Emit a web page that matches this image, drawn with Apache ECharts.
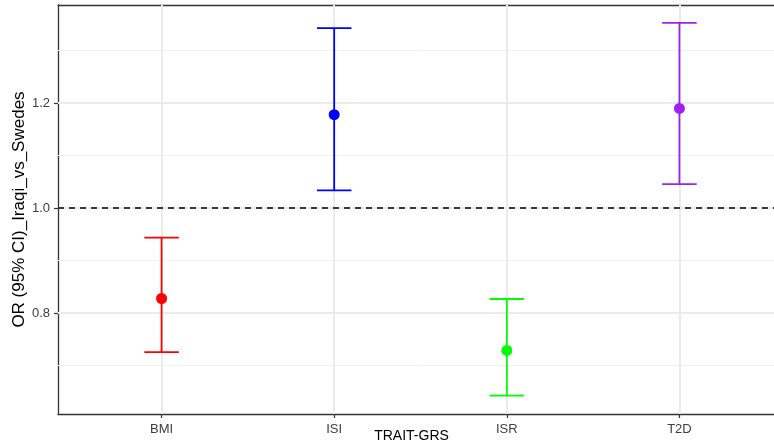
<!DOCTYPE html>
<html>
<head>
<meta charset="utf-8">
<script src="https://cdn.jsdelivr.net/npm/echarts@6/dist/echarts.min.js"></script>
<style>
  html, body { margin: 0; padding: 0; background: #fff; }
  #main { width: 774px; height: 445px; }
</style>
</head>
<body>
<div id="main"></div>
<script>
// traits and OR with 95% CI
var traits = ["BMI", "ISI", "ISR", "T2D"];
var orValue = [0.828, 1.178, 0.729, 1.190];
var ciLow = [0.726, 1.034, 0.643, 1.046];
var ciHigh = [0.944, 1.343, 0.827, 1.353];
var colors = ["#FF0000", "#0000FF", "#00FF00", "#A020F0"];
var yTicks = [0.8, 1.0, 1.2];
var yMinor = [0.7, 0.9, 1.1, 1.3];

var chart = echarts.init(document.getElementById("main"));

var xIdx = traits.map(function (t, i) { return i; });

var gridLines = [];
yMinor.forEach(function (v) {
  gridLines.push({ yAxis: v, lineStyle: { color: "#F2F2F2", width: 1, type: "solid" } });
});
yTicks.forEach(function (v) {
  gridLines.push({ yAxis: v, lineStyle: { color: "#EBEBEB", width: 2, type: "solid" } });
});
xIdx.forEach(function (v) {
  gridLines.push({ xAxis: v, lineStyle: { color: "#EBEBEB", width: 2, type: "solid" } });
});

var errData = traits.map(function (t, i) { return [i, ciLow[i], ciHigh[i]]; });
var ptData = traits.map(function (t, i) {
  return { value: [i, orValue[i]], itemStyle: { color: colors[i], opacity: 1 } };
});

var border = { show: true, onZero: false, lineStyle: { color: "#333333", width: 1.3 } };

chart.setOption({
  animation: false,
  grid: {
    left: 58,
    right: -9,
    top: 5,
    bottom: 31,
    outerBoundsMode: "none",
    containLabel: false,
    show: false
  },
  xAxis: [{
    type: "value",
    min: -0.6,
    max: 3.6,
    name: "TRAIT-GRS",
    nameLocation: "middle",
    nameGap: 15,
    nameMoveOverlap: false,
    nameTextStyle: { color: "#000", fontSize: 14, fontFamily: "Liberation Sans", padding: [0, 18, 0, 0] },
    axisLine: border,
    splitLine: { show: false },
    axisTick: { show: true, length: 4, customValues: xIdx, lineStyle: { color: "#333", width: 1.2 } },
    axisLabel: {
      customValues: xIdx,
      margin: 9,
      color: "#404040",
      fontSize: 13,
      fontFamily: "Liberation Sans",
      formatter: function (v) { return traits[Math.round(v)]; }
    }
  }, {
    type: "value",
    position: "top",
    min: -0.6,
    max: 3.6,
    axisLine: border,
    axisTick: { show: false },
    axisLabel: { show: false },
    splitLine: { show: false }
  }],
  yAxis: {
    type: "value",
    min: 0.608,
    max: 1.387,
    name: "OR (95% CI)_Iraqi_vs_Swedes",
    nameLocation: "middle",
    nameGap: 30,
    nameMoveOverlap: false,
    nameTextStyle: { color: "#000", fontSize: 17, fontFamily: "Liberation Sans" },
    axisLine: border,
    splitLine: { show: false },
    axisTick: { show: true, length: 4, customValues: yTicks, lineStyle: { color: "#333", width: 1.2 } },
    axisLabel: {
      customValues: yTicks,
      margin: 8,
      color: "#404040",
      fontSize: 13,
      fontFamily: "Liberation Sans",
      formatter: function (v) { return v.toFixed(1); }
    }
  },
  series: [
    {
      type: "line",
      data: [],
      silent: true,
      z: 1,
      markLine: {
        silent: true,
        z: 1,
        symbol: "none",
        label: { show: false },
        animation: false,
        data: gridLines
      }
    },
    {
      type: "line",
      data: [],
      silent: true,
      z: 2,
      markLine: {
        silent: true,
        z: 2,
        symbol: "none",
        label: { show: false },
        animation: false,
        data: [{ yAxis: 1.0, lineStyle: { color: "#000", width: 1.6, type: [6, 5] } }]
      }
    },
    {
      type: "custom",
      z: 3,
      data: errData,
      renderItem: function (params, api) {
        var i = api.value(0);
        var lo = api.coord([i, api.value(1)]);
        var hi = api.coord([i, api.value(2)]);
        var half = api.size([0.2, 0])[0] / 2;
        var c = colors[params.dataIndex];
        var st = { stroke: c, lineWidth: 1.8 };
        return {
          type: "group",
          children: [
            { type: "line", shape: { x1: lo[0], y1: lo[1], x2: hi[0], y2: hi[1] }, style: st },
            { type: "line", shape: { x1: lo[0] - half, y1: lo[1], x2: lo[0] + half, y2: lo[1] }, style: st },
            { type: "line", shape: { x1: hi[0] - half, y1: hi[1], x2: hi[0] + half, y2: hi[1] }, style: st }
          ]
        };
      }
    },
    {
      type: "scatter",
      z: 4,
      symbol: "circle",
      symbolSize: 11,
      data: ptData
    }
  ]
});
</script>
</body>
</html>
